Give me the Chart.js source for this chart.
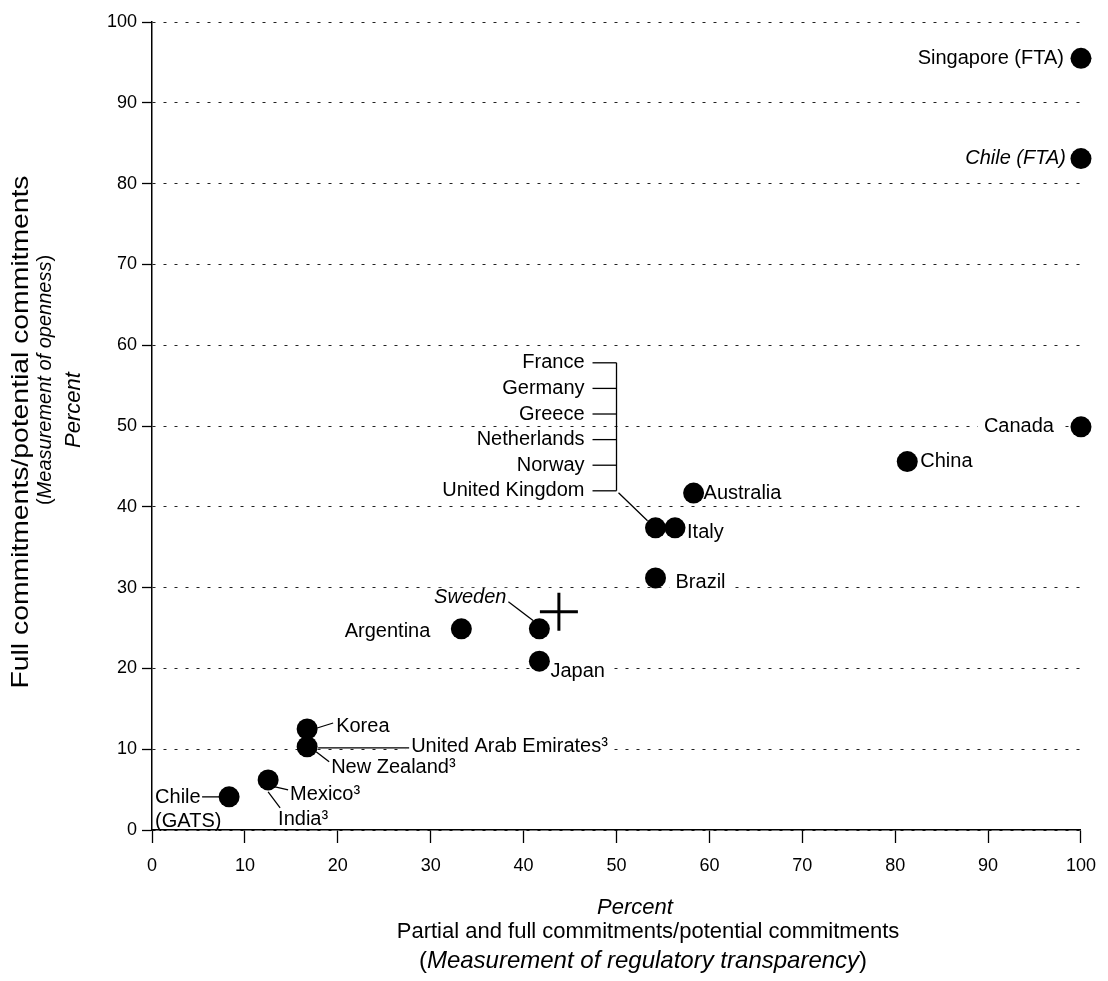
<!DOCTYPE html>
<html lang="en">
<head>
  <meta charset="UTF-8" />
  <title>Openness vs regulatory transparency</title>
  <script src="https://cdn.jsdelivr.net/npm/chart.js"></script>
  <style>
    html, body { margin: 0; padding: 0; background: #fff; }
    #wrap { width: 1108px; height: 981px; }
  </style>
</head>
<body>
  <div id="wrap"><canvas id="chart"></canvas></div>

  <script>
    // points (one dot each); some dots carry several country names
    const pointNames = [
      'Singapore (FTA)', 'Chile (FTA)', 'Canada', 'China', 'Australia',
      'France, Germany, Greece, Netherlands, Norway, United Kingdom',
      'Italy', 'Brazil', 'Sweden', 'Argentina', 'Japan', 'Korea',
      'New Zealand, United Arab Emirates', 'Mexico, India', 'Chile (GATS)'
    ];
    const transparency = [100, 100, 100, 81.3, 58.3, 54.2, 56.3, 54.2, 41.7, 33.3, 41.7, 16.7, 16.7, 12.5, 8.3];
    const openness     = [95.5, 83.1, 49.9, 45.6, 41.7, 37.4, 37.4, 31.2, 24.9, 24.9, 20.9, 12.5, 10.3, 6.2, 4.1];
    const groupMembers = ['France', 'Germany', 'Greece', 'Netherlands', 'Norway', 'United Kingdom'];
    const averageX = [43.8];
    const averageY = [27.0];
    const tickValues = [0, 10, 20, 30, 40, 50, 60, 70, 80, 90, 100];

    const FONT = "'Liberation Sans', Arial, sans-serif";

    // label placement, offsets in px from the dot
    const labelLayout = [
      { text: 'Singapore (FTA)', pt: 0, dx: -17, dy: 0, align: 'right' },
      { text: 'Chile (FTA)', pt: 1, dx: -15, dy: 0, align: 'right', italic: true },
      { text: 'Canada', pt: 2, dx: -27, dy: 0, align: 'right', bg: true },
      { text: 'China', pt: 3, dx: 13, dy: 0 },
      { text: 'Australia', pt: 4, dx: 10, dy: 0 },
      { text: 'Italy', pt: 6, dx: 12, dy: 5 },
      { text: 'Brazil', pt: 7, dx: 20, dy: 5, bg: true },
      { text: 'Sweden', pt: 8, dx: -33, dy: -31, align: 'right', italic: true, bg: true, leader: [-31, -27, -6, -8] },
      { text: 'Argentina', pt: 9, dx: -31, dy: 3, align: 'right' },
      { text: 'Japan', pt: 10, dx: 11, dy: 10, bg: true },
      { text: 'Korea', pt: 11, dx: 29, dy: -3, leader: [10, -1, 26, -6] },
      { text: 'New Zealand\u00b3', pt: 12, dx: 24, dy: 21, leader: [9, 5, 22, 15] },
      { text: 'United Arab Emirates\u00b3', pt: 12, dx: 104, dy: 0, bg: true, leader: [11, 1, 102, 1] },
      { text: 'Mexico\u00b3', pt: 13, dx: 22, dy: 15, leader: [7, 7, 20, 10] },
      { text: 'India\u00b3', pt: 13, dx: 10, dy: 40, leader: [0, 12, 12, 28] },
      { text: 'Chile', pt: 14, dx: -74, dy: 1, leader: [-27, 0, -10, 0] },
      { text: '(GATS)', pt: 14, dx: -74, dy: 25 }
    ];

    function labelFont(italic) {
      return (italic ? 'italic ' : '') + '20px ' + FONT;
    }

    // draw pieces of text in a row, some italic, centred on cx
    // width: optional target length, text is stretched to it
    function drawMixed(ctx, parts, cx, cy, size, width) {
      let total = 0;
      parts.forEach(p => {
        ctx.font = (p[1] ? 'italic ' : '') + size + 'px ' + FONT;
        total += ctx.measureText(p[0]).width;
      });
      const k = width ? width / total : 1;
      ctx.save();
      ctx.translate(cx - total * k / 2, cy);
      ctx.scale(k, 1);
      let x = 0;
      ctx.textAlign = 'left';
      parts.forEach(p => {
        ctx.font = (p[1] ? 'italic ' : '') + size + 'px ' + FONT;
        ctx.fillText(p[0], x, 0);
        x += ctx.measureText(p[0]).width;
      });
      ctx.restore();
    }

    const annotate = {
      id: 'annotate',
      beforeDatasetsDraw(chart) {
        const ctx = chart.ctx;
        const pts = chart.getDatasetMeta(0).data;
        ctx.save();
        ctx.fillStyle = '#fff';
        labelLayout.filter(l => l.bg).forEach(l => {
          ctx.font = labelFont(l.italic);
          const w = ctx.measureText(l.text).width;
          const x = pts[l.pt].x + l.dx;
          const y = pts[l.pt].y + l.dy;
          const left = l.align === 'right' ? x - w : x;
          ctx.fillRect(left - 6, y - 10, w + 10, 20);
        });
        ctx.restore();
      },
      afterDatasetsDraw(chart) {
        const ctx = chart.ctx;
        const pts = chart.getDatasetMeta(0).data;
        ctx.save();
        ctx.fillStyle = '#000';
        ctx.strokeStyle = '#000';
        ctx.lineWidth = 1.3;
        ctx.textBaseline = 'middle';

        labelLayout.forEach(l => {
          const p = pts[l.pt];
          if (l.leader) {
            ctx.beginPath();
            ctx.moveTo(p.x + l.leader[0], p.y + l.leader[1]);
            ctx.lineTo(p.x + l.leader[2], p.y + l.leader[3]);
            ctx.stroke();
          }
          ctx.font = labelFont(l.italic);
          ctx.textAlign = l.align || 'left';
          ctx.fillText(l.text, p.x + l.dx, p.y + l.dy);
        });

        // bracket for the group sharing one dot
        const g = pts[5];
        const step = 25.6;
        const top = g.y - 165;
        ctx.font = labelFont(false);
        ctx.textAlign = 'right';
        groupMembers.forEach((name, i) => {
          const y = top + i * step;
          ctx.fillText(name, g.x - 71, y);
          ctx.beginPath();
          ctx.moveTo(g.x - 63, y);
          ctx.lineTo(g.x - 39, y);
          ctx.stroke();
        });
        ctx.beginPath();
        ctx.moveTo(g.x - 39, top);
        ctx.lineTo(g.x - 39, top + step * (groupMembers.length - 1));
        ctx.moveTo(g.x - 37, top + step * (groupMembers.length - 1) + 2);
        ctx.lineTo(g.x - 8, g.y - 7);
        ctx.stroke();
        ctx.restore();
      },
      afterDraw(chart) {
        const ctx = chart.ctx;
        ctx.save();
        ctx.fillStyle = '#000';
        ctx.textBaseline = 'alphabetic';

        // x axis title
        drawMixed(ctx, [['Percent', true]], 635, 914, 22);
        drawMixed(ctx, [['Partial and full commitments/potential commitments', false]], 648, 938, 22);
        drawMixed(ctx, [['(', false], ['Measurement of regulatory transparency', true], [')', false]], 643, 968, 24);

        // y axis title, rotated
        ctx.rotate(-Math.PI / 2);
        ctx.textBaseline = 'middle';
        drawMixed(ctx, [['Full commitments/potential commitments', false]], -432, 21, 24, 513);
        drawMixed(ctx, [['(', false], ['Measurement of openness', true], [')', false]], -380, 45, 20);
        drawMixed(ctx, [['Percent', true]], -410, 74, 22);
        ctx.restore();
      }
    };

    const ctx = document.getElementById('chart').getContext('2d');
    new Chart(ctx, {
      type: 'scatter',
      data: {
        datasets: [
          {
            label: 'Countries',
            data: transparency.map((x, i) => ({ x: x, y: openness[i] })),
            pointRadius: 10.5,
            pointHoverRadius: 10.5,
            pointStyle: 'circle',
            backgroundColor: '#000',
            borderWidth: 0,
            clip: false
          },
          {
            label: 'Average',
            data: averageX.map((x, i) => ({ x: x, y: averageY[i] })),
            pointStyle: 'cross',
            pointRadius: 19,
            pointHoverRadius: 19,
            borderColor: '#000',
            borderWidth: 3,
            clip: false
          }
        ]
      },
      options: {
        responsive: true,
        maintainAspectRatio: false,
        animation: false,
        events: [],
        layout: { padding: { left: 0, right: 24, top: 17, bottom: 0 } },
        plugins: {
          legend: { display: false },
          tooltip: { enabled: false }
        },
        scales: {
          x: {
            type: 'linear',
            min: 0,
            max: 100,
            afterBuildTicks: s => { s.ticks = tickValues.map(v => ({ value: v })); },
            afterFit: s => { s.height = 151; },
            ticks: {
              color: '#000',
              padding: 12,
              maxRotation: 0,
              font: { family: FONT, size: 18 }
            },
            grid: {
              drawOnChartArea: false,
              drawTicks: true,
              tickLength: 13,
              tickColor: '#000',
              tickWidth: 1.3
            },
            border: { display: true, color: '#000', width: 1.5 }
          },
          y: {
            type: 'linear',
            min: 0,
            max: 100,
            afterBuildTicks: s => { s.ticks = tickValues.map(v => ({ value: v })); },
            afterFit: s => { s.width = 152; },
            ticks: {
              color: '#000',
              padding: 5,
              font: { family: FONT, size: 18 }
            },
            grid: {
              color: '#222',
              lineWidth: 1,
              tickLength: 10,
              tickColor: '#000',
              tickWidth: 1.3,
              tickBorderDash: []
            },
            border: { display: true, color: '#000', width: 1.5, dash: [3, 8] }
          }
        }
      },
      plugins: [annotate]
    });
  </script>
</body>
</html>
